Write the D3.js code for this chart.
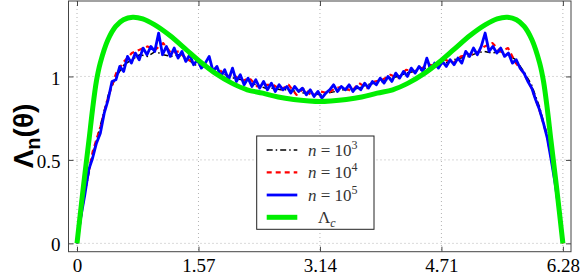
<!DOCTYPE html>
<html>
<head>
<meta charset="utf-8">
<script src="https://cdn.jsdelivr.net/npm/d3@7"></script>
<style>
  body { margin: 0; background: #fff; }
  svg { display: block; }
</style>
</head>
<body>
<div id="graph"></div>
<script>
//tick labels
let xTicks = [0, 1.57, 3.14, 4.71, 6.28]
let yTicks = [0, 0.5, 1]

//Lambda_c (smooth curve)
let greenTheta = [0, 0.08, 0.155, 0.2, 0.25, 0.3, 0.4, 0.5, 0.6, 0.72, 0.85, 1.0, 1.2, 1.4, 1.6, 1.8, 2.0, 2.2, 2.4, 2.6, 2.8, 3.0,
    3.14, 3.28, 3.48, 3.68, 3.88, 4.08, 4.28, 4.48, 4.68, 4.88, 5.08, 5.28, 5.43, 5.56, 5.68, 5.78, 5.88, 5.98, 6.03, 6.08, 6.125, 6.2, 6.28]
let greenVal = [0, 0.33, 0.62, 0.8, 0.97, 1.08, 1.22, 1.3, 1.34, 1.355, 1.345, 1.31, 1.245, 1.165, 1.085, 1.015, 0.96, 0.92, 0.9, 0.877, 0.862, 0.853,
    0.85, 0.853, 0.862, 0.877, 0.9, 0.92, 0.96, 1.015, 1.085, 1.165, 1.245, 1.31, 1.345, 1.355, 1.34, 1.3, 1.22, 1.08, 0.97, 0.8, 0.62, 0.33, 0]

//n = 10^5, sampled evenly over [0, 6.28]
let blueVal = [0.00, 0.16, 0.29, 0.44, 0.51, 0.60, 0.66, 0.78, 0.86, 0.97,
    0.98, 1.06, 1.03, 1.12, 1.08, 1.14, 1.10, 1.17, 1.13, 1.18,
    1.15, 1.26, 1.13, 1.18, 1.12, 1.17, 1.11, 1.15, 1.09, 1.13,
    1.07, 1.10, 1.05, 1.08, 1.12, 1.03, 1.06, 1.00, 1.04, 0.98,
    1.05, 0.97, 1.01, 0.95, 0.99, 0.94, 0.98, 0.93, 0.97, 0.92,
    0.96, 0.91, 0.95, 0.92, 0.94, 0.90, 0.94, 0.91, 0.93, 0.89,
    0.92, 0.88, 0.91, 0.87, 0.90, 0.92, 0.95, 0.91, 0.94, 0.92,
    0.95, 0.91, 0.94, 0.92, 0.96, 0.93, 0.97, 0.95, 0.99, 0.96,
    1.00, 0.97, 1.02, 0.99, 1.03, 1.00, 1.05, 1.02, 1.06, 1.03,
    1.11, 1.04, 1.08, 1.05, 1.09, 1.06, 1.10, 1.07, 1.11, 1.08,
    1.15, 1.12, 1.17, 1.13, 1.18, 1.26, 1.15, 1.18, 1.14, 1.17,
    1.12, 1.14, 1.08, 1.10, 1.05, 1.02, 0.97, 0.93, 0.86, 0.80,
    0.72, 0.63, 0.50, 0.36, 0.20, 0.02]

//n = 10^4
let redVal = [0, 0.31, 0.55, 0.70, 0.88, 1.02, 1.09, 1.14, 1.16, 1.18,
    1.16, 1.20, 1.14, 1.15, 1.10, 1.09, 1.08, 1.04, 1.05, 1.00,
    1.01, 0.97, 0.99, 0.94, 0.95, 0.95, 0.92, 0.95, 0.89, 0.93,
    0.88, 0.91, 0.90, 0.93, 0.94, 0.91, 0.96, 0.93, 0.97, 0.98,
    1.01, 0.99, 1.04, 1.03, 1.05, 1.07, 1.06, 1.10, 1.08, 1.12,
    1.13, 1.14, 1.18, 1.20, 1.15, 1.17, 1.08, 1.02, 0.93, 0.80,
    0.64, 0.38, 0]

//n = 10^3
let blackVal = [0, 0.30, 0.53, 0.71, 0.89, 1.00, 1.07, 1.10, 1.13, 1.12,
    1.15, 1.13, 1.12, 1.13, 1.11, 1.07, 1.06, 1.05, 1.02, 1.01,
    0.99, 0.98, 0.96, 0.95, 0.93, 0.93, 0.92, 0.92, 0.91, 0.90,
    0.90, 0.89, 0.90, 0.91, 0.92, 0.92, 0.93, 0.95, 0.96, 0.97,
    0.99, 1.00, 1.02, 1.03, 1.04, 1.06, 1.07, 1.08, 1.10, 1.11,
    1.12, 1.14, 1.15, 1.14, 1.15, 1.13, 1.10, 1.03, 0.95, 0.82,
    0.65, 0.40, 0]

let THETA_MAX = 6.28

let width = 581, height = 275
let box = {left: 68.5, right: 571, top: 1, bottom: 251.7}

let svg = d3.select("#graph")
    .append("svg")
    .attr("width", width)
    .attr("height", height)

//scales
let x = d3.scaleLinear()
    .domain([-0.11, 6.385])
    .range([box.left, box.right])

let y = d3.scaleLinear()
    .domain([-0.05, 1.452])
    .range([box.bottom, box.top])

//dotted grid
svg.append("g").selectAll("line").data(xTicks).enter()
    .append("line")
    .attr("x1", d => x(d)).attr("x2", d => x(d))
    .attr("y1", box.top).attr("y2", box.bottom)
    .attr("stroke", "#b4b4b4")
    .attr("stroke-dasharray", "1,3")

svg.append("g").selectAll("line").data(yTicks).enter()
    .append("line")
    .attr("x1", box.left).attr("x2", box.right)
    .attr("y1", d => y(d)).attr("y2", d => y(d))
    .attr("stroke", "#b4b4b4")
    .attr("stroke-dasharray", "1,3")

//axes with inward ticks
let tickStyle = function(g) {
    g.select(".domain").remove()
    g.selectAll(".tick line").attr("stroke", "#444")
    g.selectAll(".tick text")
        .attr("fill", "#000")
        .style("font-family", "'Liberation Serif', serif")
        .style("font-size", "19px")
}

svg.append("g")
    .attr("transform", `translate(0,${box.bottom})`)
    .call(d3.axisBottom(x).tickValues(xTicks).tickFormat(d3.format(".2~f")).tickSize(-5).tickPadding(9))
    .call(tickStyle)
    .selectAll(".tick text").attr("dy", "0.62em")

svg.append("g")
    .attr("transform", `translate(0,${box.top})`)
    .call(d3.axisTop(x).tickValues(xTicks).tickSize(-5).tickFormat(""))
    .call(tickStyle)

svg.append("g")
    .attr("transform", `translate(${box.left},0)`)
    .call(d3.axisLeft(y).tickValues(yTicks).tickFormat(d3.format("~g")).tickSize(-5).tickPadding(8))
    .call(tickStyle)
    .selectAll(".tick text").attr("dy", "0.4em")

svg.append("g")
    .attr("transform", `translate(${box.right},0)`)
    .call(d3.axisRight(y).tickValues(yTicks).tickSize(-5).tickFormat(""))
    .call(tickStyle)

//box
svg.append("rect")
    .attr("x", box.left).attr("y", box.top)
    .attr("width", box.right - box.left).attr("height", box.bottom - box.top)
    .attr("fill", "none")
    .attr("stroke", "#444")
    .attr("stroke-width", 1)

//lines
let evenly = function(vals) {
    return vals.map((v, i) => [i * THETA_MAX / (vals.length - 1), v])
}

let line = d3.line()
    .x(d => x(d[0]))
    .y(d => y(d[1]))

let series = [
    {label: "3", data: evenly(blackVal), color: "#000", width: 1.5, dash: "6,3,1.5,3"},
    {label: "4", data: evenly(redVal), color: "#ff0000", width: 2.2, dash: "5,4"},
    {label: "5", data: evenly(blueVal), color: "#0000ff", width: 2.8, dash: null},
    {label: "c", data: greenTheta.map((t, i) => [t, greenVal[i]]), color: "#00ee00", width: 5, dash: null}
]

svg.append("g").selectAll("path").data(series).enter()
    .append("path")
    .attr("d", d => d.label == "c" ? line.curve(d3.curveCatmullRom)(d.data) : line.curve(d3.curveLinear)(d.data))
    .attr("fill", "none")
    .attr("stroke", d => d.color)
    .attr("stroke-width", d => d.width)
    .attr("stroke-dasharray", d => d.dash)
    .attr("stroke-linejoin", "round")

//legend
let legend = svg.append("g")

legend.append("rect")
    .attr("x", 256.7).attr("y", 136)
    .attr("width", 117.3).attr("height", 93.3)
    .attr("fill", "#fff")
    .attr("stroke", "#222")
    .attr("stroke-width", 1)

let rowY = [150, 172.3, 195, 217.3]

legend.selectAll("line").data(series).enter()
    .append("line")
    .attr("x1", 266.7).attr("x2", 297.3)
    .attr("y1", (d, i) => rowY[i]).attr("y2", (d, i) => rowY[i])
    .attr("stroke", d => d.color)
    .attr("stroke-width", d => d.width)
    .attr("stroke-dasharray", d => d.dash)

let labels = legend.selectAll("text").data(series).enter()
    .append("text")
    .attr("x", d => d.label == "c" ? 318 : 308)
    .attr("y", (d, i) => rowY[i] + 5.5)
    .style("font-family", "'Liberation Serif', serif")
    .style("font-size", "17px")
    .attr("fill", "#333")

labels.each(function(d) {
    let t = d3.select(this)
    if (d.label == "c") {
        t.append("tspan").text("Λ")
        t.append("tspan").attr("font-style", "italic").attr("font-size", "12px").attr("dy", 4).text("c")
    } else {
        t.append("tspan").attr("font-style", "italic").text("n")
        t.append("tspan").text(" = 10")
        t.append("tspan").attr("font-size", "12px").attr("dy", -7).text(d.label)
    }
})

//y label
let ylab = svg.append("text")
    .attr("transform", `translate(${33},${136}) rotate(-90)`)
    .style("text-anchor", "middle")
    .style("font-family", "'Liberation Sans', sans-serif")
    .style("font-weight", "bold")
    .style("font-size", "28px")

ylab.append("tspan").text("Λ")
ylab.append("tspan").attr("font-size", "20px").attr("dy", 7).text("n")
ylab.append("tspan").attr("dy", -7).text("(θ)")
</script>
</body>
</html>
